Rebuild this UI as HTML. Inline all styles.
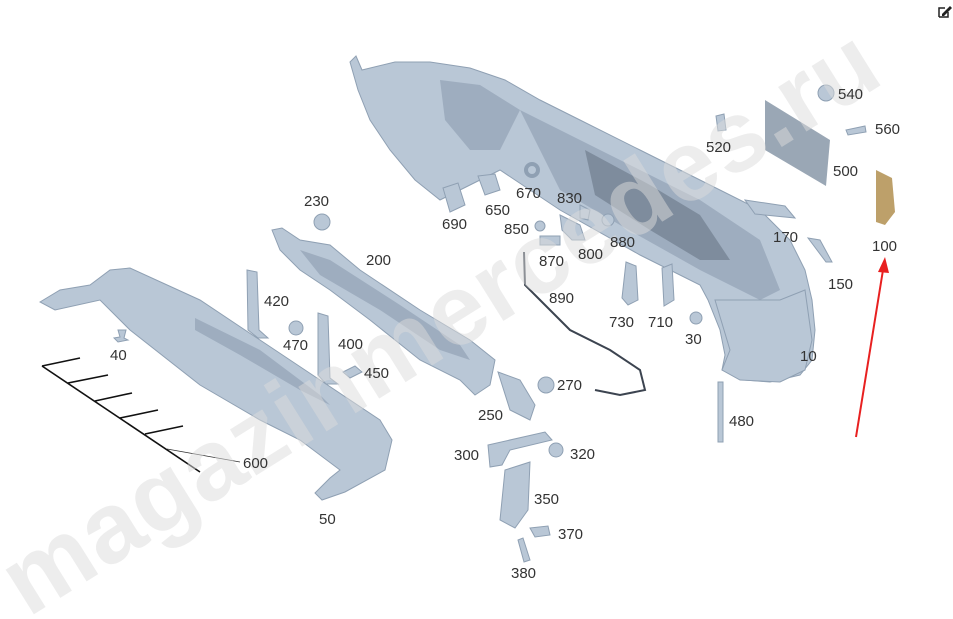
<!DOCTYPE html>
<html><head><meta charset="utf-8"><style>
html,body{margin:0;padding:0;background:#fff;width:953px;height:619px;overflow:hidden}
svg{display:block}
text{font-family:"Liberation Sans",sans-serif;font-size:15px;fill:#333}
.p{fill:#b9c7d6;stroke:#8fa0b3;stroke-width:1}
.d{fill:#9eadbf}
.k{fill:#7e8c9d}
</style></head><body>
<svg width="953" height="619" viewBox="0 0 953 619" xmlns="http://www.w3.org/2000/svg">
<!-- main bumper 10 -->
<polygon class="p" points="350,62 356,56 362,70 395,62 430,62 470,68 505,80 540,100 580,120 640,150 700,180 760,210 790,240 805,270 812,300 815,330 812,360 800,375 770,382 745,380 722,370 725,355 720,330 708,300 700,285 640,255 560,210 500,170 470,185 440,200 415,180 390,150 370,120 358,90"/>
<polygon class="d" points="520,110 600,150 700,200 760,240 780,290 760,300 700,270 620,225 560,190 540,150"/>
<polygon class="k" points="585,150 650,185 700,215 730,260 700,260 650,230 595,195"/>
<polygon class="d" points="440,80 480,85 520,110 500,150 470,150 445,120"/>
<!-- corner side -->
<polygon class="p" points="715,300 780,300 805,290 812,340 805,370 780,382 740,380 722,370 730,350"/>
<!-- diffuser 50 -->
<polygon class="p" points="40,302 60,290 90,285 110,270 130,268 200,300 260,340 320,380 380,420 392,440 385,470 345,492 322,500 315,493 330,478 340,470 300,440 260,420 200,385 130,330 100,300 55,310"/>
<polygon class="d" points="195,318 260,350 320,395 330,405 300,390 240,355 195,330"/>
<!-- bracket 200 -->
<polygon class="p" points="272,230 282,228 300,240 330,245 360,270 420,310 470,340 495,360 490,385 475,395 460,380 420,360 370,320 330,290 300,270 280,250"/>
<polygon class="d" points="300,250 330,260 400,305 460,345 470,360 440,350 380,310 320,275"/>
<!-- 600 lines -->
<g stroke="#111" stroke-width="1.6" fill="none">
<polyline points="42,366 200,472"/>
<line x1="42" y1="366" x2="80" y2="358"/>
<line x1="68" y1="383" x2="108" y2="375"/>
<line x1="95" y1="401" x2="132" y2="393"/>
<line x1="120" y1="418" x2="158" y2="410"/>
<line x1="145" y1="434" x2="183" y2="426"/>
</g>
<line x1="167" y1="449" x2="240" y2="462" stroke="#333" stroke-width="0.8"/>
<!-- small parts -->
<circle class="p" cx="322" cy="222" r="8"/>
<polygon class="p" points="247,270 257,272 259,330 268,338 258,338 248,330"/>
<polygon class="p" points="318,313 328,316 330,378 338,384 326,384 318,375"/>
<circle class="p" cx="296" cy="328" r="7"/>
<polygon class="p" points="343,372 355,366 362,372 350,378"/>
<polygon class="p" points="118,330 126,330 124,338 128,340 118,342 114,338 120,337"/>
<polygon class="p" points="443,188 458,183 465,205 450,212"/>
<polygon class="p" points="478,176 495,174 500,190 485,195"/>
<circle cx="532" cy="170" r="6" fill="none" stroke="#8fa0b3" stroke-width="4"/>
<polygon class="p" points="560,215 580,225 585,240 572,240 562,230"/>
<rect class="p" x="540" y="236" width="20" height="9"/>
<circle class="p" cx="540" cy="226" r="5"/>
<polygon class="p" points="580,205 590,210 588,220 580,218"/>
<circle class="p" cx="608" cy="220" r="6"/>
<polyline points="524,252 525,285 540,300 570,330 610,350 640,370 645,390 620,395 595,390" fill="none" stroke="#3c4450" stroke-width="2"/>
<polygon class="p" points="626,262 636,266 638,300 628,305 622,298"/>
<polygon class="p" points="662,268 672,264 674,300 664,306"/>
<circle class="p" cx="696" cy="318" r="6"/>
<polygon class="p" points="498,372 520,380 535,405 530,420 510,410"/>
<circle class="p" cx="546" cy="385" r="8"/>
<polygon class="p" points="488,445 545,432 552,440 510,450 502,465 490,467"/>
<circle class="p" cx="556" cy="450" r="7"/>
<polygon class="p" points="505,470 530,462 528,510 515,528 500,520"/>
<polygon class="p" points="530,528 548,526 550,535 535,537"/>
<polygon class="p" points="518,540 523,538 530,560 524,562"/>
<rect class="p" x="718" y="382" width="5" height="60"/>
<polygon class="p" points="716,116 724,114 726,130 718,131"/>
<circle class="p" cx="826" cy="93" r="8"/>
<polygon points="765,100 830,140 826,186 765,150" fill="#9aa7b5"/>
<polygon class="p" points="846,130 865,126 866,132 848,135"/>
<polygon points="876,170 892,178 895,212 885,225 876,222" fill="#bda06a"/>
<polygon class="p" points="745,200 785,206 795,218 755,214"/>
<polygon class="p" points="808,238 820,240 832,262 826,262"/>
<!-- red arrow -->
<line x1="856" y1="437" x2="883" y2="270" stroke="#e82020" stroke-width="2"/>
<polygon points="885,257 878,272 889,273" fill="#e82020"/>
<!-- watermark -->
<text x="0" y="0" transform="translate(28,618) rotate(-32)" style="font-size:100px;font-weight:bold;fill:#dcdcdc;fill-opacity:0.5;letter-spacing:1px">magazinmercedes.ru</text>
<!-- labels -->
<text x="304" y="206">230</text><text x="366" y="265">200</text>
<text x="264" y="306">420</text><text x="283" y="350">470</text>
<text x="338" y="349">400</text><text x="364" y="378">450</text>
<text x="110" y="360">40</text><text x="243" y="468">600</text>
<text x="319" y="524">50</text><text x="478" y="420">250</text>
<text x="557" y="390">270</text><text x="454" y="460">300</text>
<text x="570" y="459">320</text><text x="534" y="504">350</text>
<text x="558" y="539">370</text><text x="511" y="578">380</text>
<text x="442" y="229">690</text><text x="485" y="215">650</text>
<text x="516" y="198">670</text><text x="557" y="203">830</text>
<text x="504" y="234">850</text><text x="610" y="247">880</text>
<text x="539" y="266">870</text><text x="578" y="259">800</text>
<text x="549" y="303">890</text><text x="609" y="327">730</text>
<text x="648" y="327">710</text><text x="685" y="344">30</text>
<text x="800" y="361">10</text><text x="729" y="426">480</text>
<text x="706" y="152">520</text><text x="838" y="99">540</text>
<text x="875" y="134">560</text><text x="833" y="176">500</text>
<text x="773" y="242">170</text><text x="828" y="289">150</text>
<text x="872" y="251">100</text>
<!-- edit icon -->
<path d="M939,17 L939,8 L945,8 M939,17 L948,17 L948,12" fill="none" stroke="#222" stroke-width="1.5"/>
<path d="M942,14 L950,6 L952,8 L944,16 L942,16 Z" fill="#222"/>
</svg>
</body></html>
